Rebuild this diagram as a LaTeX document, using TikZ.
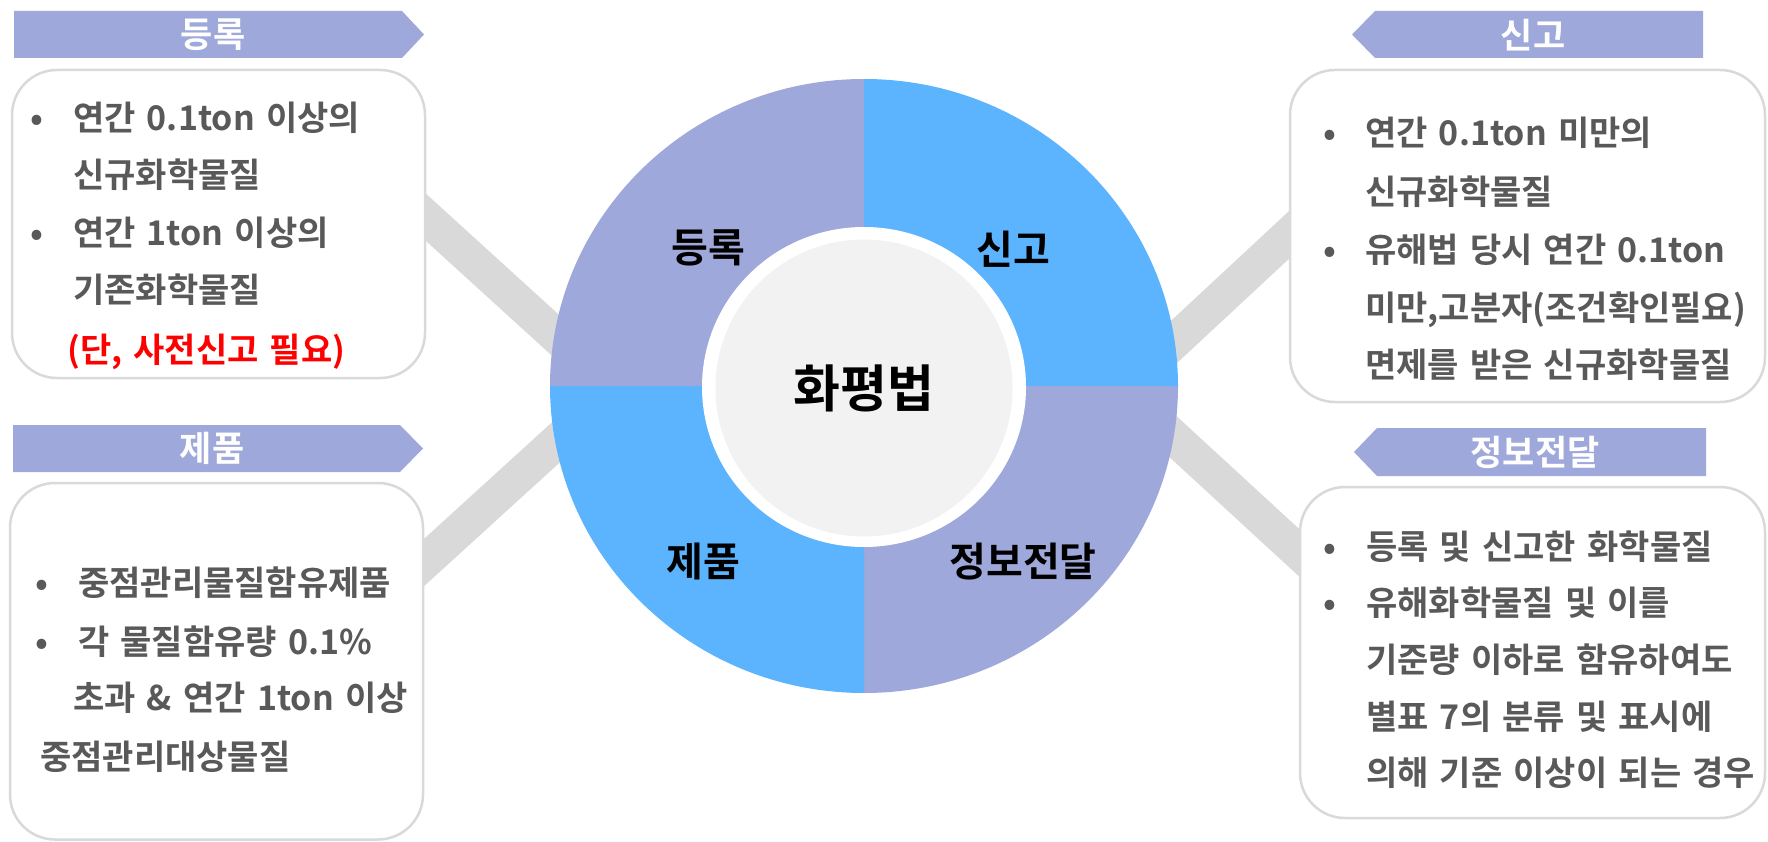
\documentclass[tikz,border=0pt]{standalone}
\usepackage{fontspec}
\setmainfont{Noto Sans CJK KR}[BoldFont={Noto Sans CJK KR Bold},WordSpace=1.45]
\definecolor{lav}{RGB}{159,168,218}
\definecolor{sky}{RGB}{92,180,255}
\definecolor{band}{RGB}{217,217,217}
\definecolor{hubgray}{RGB}{242,242,242}
\definecolor{txtgray}{RGB}{89,89,89}
\begin{document}
\begin{tikzpicture}[x=1pt,y=-1pt,
  infobox/.style={draw=band,line width=2.5pt,fill=white,rounded corners=45pt},
  bandline/.style={draw=band,line width=35pt},
  ribbon/.style={fill=lav},
  ribbontext/.style={text=white,font=\fontsize{35}{42}\selectfont\bfseries,inner sep=0pt},
  item/.style={anchor=west,inner sep=0pt,text=txtgray,font=\fontsize{34}{42}\selectfont\bfseries,text height=29.3pt,text depth=4.2pt},
  quad/.style={font=\fontsize{40}{48}\selectfont\bfseries,inner sep=0pt}]
\useasboundingbox (0,0) rectangle (1768,842);

% grey bands behind everything
\coordinate (ulA) at (380,175.5);
\coordinate (ulB) at (620,394);
\coordinate (llA) at (380,602.6);
\coordinate (llB) at (620,384);
\coordinate (urA) at (1340,187.5);
\coordinate (urB) at (1110,401.4);
\coordinate (lrA) at (1350,599.5);
\coordinate (lrB) at (1110,378.7);
\draw[bandline] (ulA)--(ulB);
\draw[bandline] (llA)--(llB);
\draw[bandline] (urA)--(urB);
\draw[bandline] (lrA)--(lrB);

% boxes
\draw[infobox] (12,70) rectangle (425,378);
\draw[infobox] (1290,70) rectangle (1765,402);
\draw[infobox] (10,483) rectangle (423,839.5);
\draw[infobox] (1300,487) rectangle (1765,818);

% ring
\fill[lav] (864,386) -- +(180:314 and 307) arc[start angle=180,end angle=270,x radius=314,y radius=307] -- cycle;
\fill[sky] (864,386) -- +(270:314 and 307) arc[start angle=270,end angle=360,x radius=314,y radius=307] -- cycle;
\fill[lav] (864,386) -- +(0:314 and 307) arc[start angle=0,end angle=90,x radius=314,y radius=307] -- cycle;
\fill[sky] (864,386) -- +(90:314 and 307) arc[start angle=90,end angle=180,x radius=314,y radius=307] -- cycle;
\fill[white] (864,387) ellipse[x radius=162,y radius=160];
\node[circle,fill=hubgray,minimum size=297pt,inner sep=0pt,font=\fontsize{51}{60}\selectfont\bfseries] (hub) at (864,388) {화평법};

\node[quad] (q1) at (708,248) {등록};
\node[quad] (q2) at (1013,249) {신고};
\node[quad] (q3) at (703,561) {제품};
\node[quad] (q4) at (1023,562) {정보전달};

% banners
\fill[ribbon] (14,11)--(402,11)--(424,34.5)--(402,58)--(14,58)--cycle;
\node[ribbontext] (tag1) at (213,35) {등록};
\fill[ribbon] (1352,34.5)--(1375,11)--(1703,11)--(1703,58)--(1375,58)--cycle;
\node[ribbontext] (tag2) at (1533,35) {신고};
\fill[ribbon] (13,425)--(400,425)--(423,448.5)--(400,472)--(13,472)--cycle;
\node[ribbontext] (tag3) at (212,448) {제품};
\fill[ribbon] (1354,452)--(1377,428)--(1706,428)--(1706,476)--(1377,476)--cycle;
\node[ribbontext] (tag4) at (1535,452) {정보전달};

% box texts
\node[item] (a1) at (37,118) {\makebox[0pt]{•}\hspace{36pt}연간 0.1ton 이상의};
\node[item] (a2) at (73,175) {신규화학물질};
\node[item] (a3) at (37,233) {\makebox[0pt]{•}\hspace{36pt}연간 1ton 이상의};
\node[item] (a4) at (73,290) {기존화학물질};
\node[item,text=red] (a5) at (67,350) {(단, 사전신고 필요)};

\node[item] (b1) at (1330,133) {\makebox[0pt]{•}\hspace{35pt}연간 0.1ton 미만의};
\node[item] (b2) at (1365,192) {신규화학물질};
\node[item] (b3) at (1330,250) {\makebox[0pt]{•}\hspace{35pt}유해법 당시 연간 0.1ton};
\node[item] (b4) at (1365,308) {미만,고분자(조건확인필요)};
\node[item] (b5) at (1365,365) {면제를 받은 신규화학물질};

\node[item] (c1) at (42,583) {\makebox[0pt]{•}\hspace{36pt}중점관리물질함유제품};
\node[item] (c2) at (42,642) {\makebox[0pt]{•}\hspace{36pt}각 물질함유량 0.1\%};
\node[item] (c3) at (73,698) {초과 \& 연간 1ton 이상};
\node[item] (c4) at (40,757) {중점관리대상물질};

\node[item] (d1) at (1330,547) {\makebox[0pt]{•}\hspace{36pt}등록 및 신고한 화학물질};
\node[item] (d2) at (1330,603) {\makebox[0pt]{•}\hspace{36pt}유해화학물질 및 이를};
\node[item] (d3) at (1366,660) {기준량 이하로 함유하여도};
\node[item] (d4) at (1366,717) {별표 7의 분류 및 표시에};
\node[item] (d5) at (1366,773) {의해 기준 이상이 되는 경우};
\end{tikzpicture}
\end{document}
